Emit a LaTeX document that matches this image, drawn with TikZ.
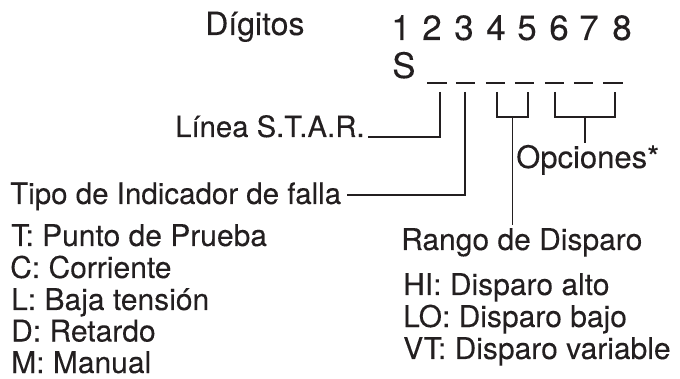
\documentclass[tikz,border=0pt]{standalone}
\usepackage{fontspec}
\setmainfont{TeX Gyre Heros}
\newfontfamily\labelfont[FakeBold=0.12]{TeX Gyre Heros}
\usetikzlibrary{calc}
\definecolor{ink}{HTML}{231F20}
\newcommand{\fsz}[1]{\labelfont\fontsize{#1}{36}\selectfont}
\tikzset{
  lbl/.style={inner sep=0pt, anchor=base west, text=ink, font=\fsz{30}},
  dig/.style={inner sep=0pt, anchor=base, text=ink, font=\fsz{35}},
  conn/.style={draw=ink, line width=1.9pt},
  blank/.style={draw=ink, line width=1.9pt}
}
\begin{document}
\begin{tikzpicture}[x=1pt,y=-1pt]
\useasboundingbox (0,0) rectangle (680,379);
% heading
\node[lbl, font=\fsz{32}] (digitos) at (205,35) {Dígitos};
\foreach \n/\x in {1/401,2/432,3/464,4/496,5/527,6/559,7/589,8/622}
  \node[dig] (n\n) at (\x,40) {\n};
\node[dig, anchor=base west] (S) at (392,78) {S};
% blanks
\foreach \i/\x in {2/437,3/465.5,4/495.5,5/524.5,6/554.5,7/583.5,8/613}{
  \coordinate (d\i) at (\x,83);
  \draw[blank] ($(d\i)+(-9.7,0)$) -- ($(d\i)+(9.7,0)$);
}
% tap points below blanks
\coordinate (t2) at (440,92);
\coordinate (t3) at (465,92);
\coordinate (t4) at (497,92);
\coordinate (t5) at (528,92);
\coordinate (t6) at (555,92);
\coordinate (t8) at (615,92);
\coordinate (b45) at (512.5,117);
\coordinate (b68) at (585,117);
% labels
\node[lbl, font=\fsz{29.3}] (linea) at (175,137) {Línea S.T.A.R.};
\node[lbl, font=\fsz{29.5}] (tipo) at (10,204) {Tipo de Indicador de falla};
\node[lbl, font=\fsz{31}] (opc) at (516,168) {Opciones*};
\node[lbl] (rango) at (401,250) {Rango de Disparo};
% lists
\node[lbl] (iT) at (11,246) {T: Punto de Prueba};
\node[lbl] (iC) at (10,278) {C: Corriente};
\node[lbl] (iL) at (11,310) {L: Baja tensión};
\node[lbl] (iD) at (11,341.5) {D: Retardo};
\node[lbl] (iM) at (11,373) {M: Manual};
\node[lbl] (iHI) at (403,295) {HI: Disparo alto};
\node[lbl] (iLO) at (403,327) {LO: Disparo bajo};
\node[lbl] (iVT) at (403,359) {VT: Disparo variable};
% connectors
\coordinate (lineaend) at (368,137);
\coordinate (tipoend) at (347,195);
\draw[conn] (t2) |- (lineaend);
\draw[conn] (t3) |- (tipoend);
\draw[conn] (t4) |- (b45) -| (t5);
\draw[conn] (t6) |- (b68) -| (t8);
\draw[conn] (b45) -- ($(b45 |- rango.north)+(0,-3)$);
\draw[conn] (b68) -- ($(b68 |- opc.north)+(0,-2)$);
\end{tikzpicture}
\end{document}
